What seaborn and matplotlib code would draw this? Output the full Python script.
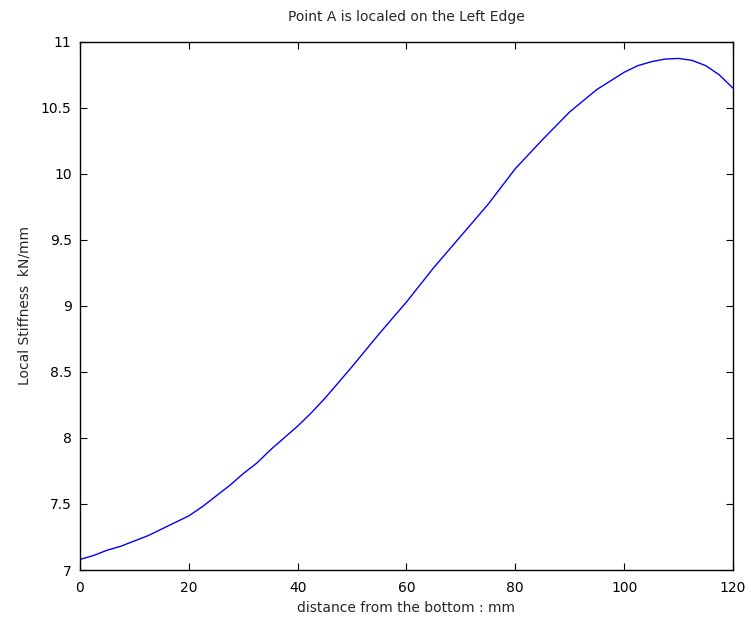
import matplotlib
matplotlib.use("Agg")
import matplotlib.pyplot as plt
import pandas as pd
import seaborn as sns

# distance from the bottom (mm) and local stiffness (kN/mm)
distance = [0, 2.5, 5, 7.5, 10, 12.5, 15, 17.5, 20, 22.5, 25, 27.5, 30, 32.5, 35, 37.5,
            40, 42.5, 45, 47.5, 50, 55, 60, 65, 70, 75, 80, 85, 90, 95,
            100, 102.5, 105, 107.5, 110, 112.5, 115, 117.5, 120]
stiffness = [7.08, 7.11, 7.15, 7.18, 7.22, 7.26, 7.31, 7.36, 7.41, 7.48, 7.56, 7.64, 7.73, 7.81, 7.91, 8.00,
             8.09, 8.19, 8.30, 8.42, 8.54, 8.79, 9.03, 9.29, 9.53, 9.77, 10.04, 10.26, 10.47, 10.64,
             10.77, 10.82, 10.85, 10.87, 10.875, 10.86, 10.82, 10.75, 10.65]
x_ticks = [0, 20, 40, 60, 80, 100, 120]
y_ticks = [7, 7.5, 8, 8.5, 9, 9.5, 10, 10.5, 11]
y_tick_labels = ["7", "7.5", "8", "8.5", "9", "9.5", "10", "10.5", "11"]

df = pd.DataFrame({"distance": distance, "stiffness": stiffness})

sns.set_style("ticks")
plt.rcParams["font.family"] = ["DejaVu Sans"]
plt.rcParams["xtick.direction"] = "in"
plt.rcParams["ytick.direction"] = "in"

fig = plt.figure(figsize=(7.51, 6.22), dpi=100)
ax = fig.add_axes([0.1065, 0.0836, 0.8695, 0.849])

sns.lineplot(data=df, x="distance", y="stiffness", ax=ax, color="#0000ff", linewidth=1.0)

ax.set_xlim(0, 120)
ax.set_ylim(7, 11)
ax.set_xticks(x_ticks)
ax.set_yticks(y_ticks)
ax.set_yticklabels(y_tick_labels)
ax.tick_params(axis="both", which="both", direction="in", length=5, width=0.8,
               top=True, right=True, labelsize=10, colors="black")
ax.tick_params(axis="x", pad=8)
ax.tick_params(axis="y", pad=6)
for spine in ax.spines.values():
    spine.set_visible(True)
    spine.set_linewidth(1.0)
    spine.set_color("black")

ax.set_title("Point A is localed on the Left Edge", fontsize=10, pad=15)
ax.set_xlabel("distance from the bottom : mm", fontsize=10, labelpad=4)
ax.set_ylabel("Local Stiffness  kN/mm", fontsize=10, labelpad=7)

fig.savefig("out.png", dpi=100)
